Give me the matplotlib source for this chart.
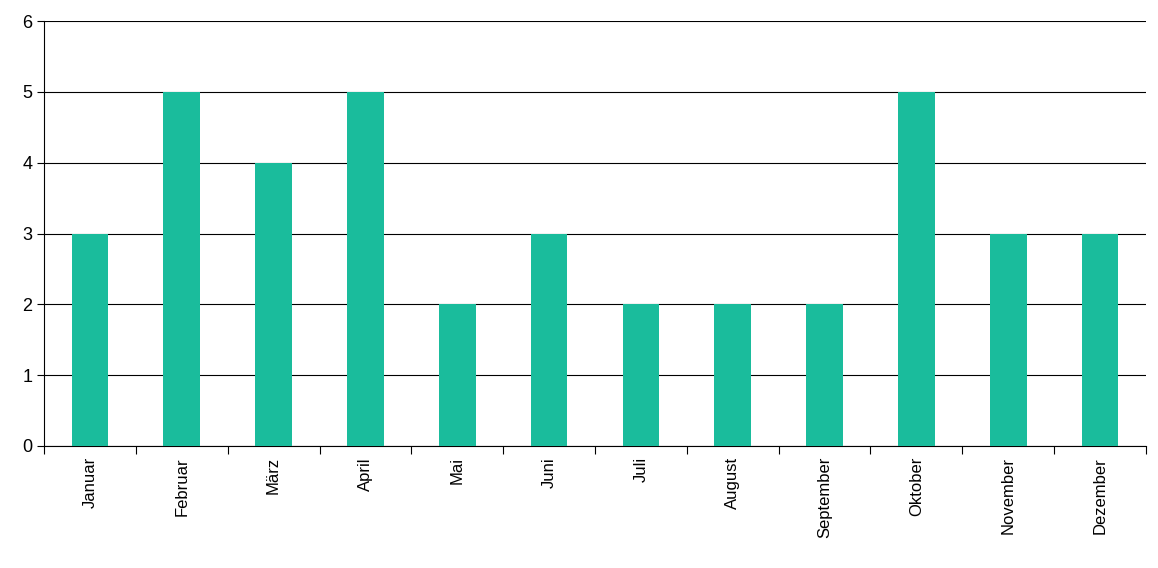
import matplotlib
matplotlib.use("Agg")
import matplotlib.pyplot as plt
import numpy as np

months = ["Januar","Februar","März","April","Mai","Juni","Juli","August","September","Oktober","November","Dezember"]
values = [3,5,4,5,2,3,2,2,2,5,3,3]

plt.rcParams['font.family'] = ['Liberation Sans','DejaVu Sans']
fig = plt.figure(figsize=(11.58,5.68), dpi=100)
ax = fig.add_axes([44/1158, 1-446/568, (1146-44)/1158, (446-21)/568])
x = np.arange(len(months))
ax.bar(x, values, width=0.4, color="#1abc9c", zorder=3)
ax.set_xlim(-0.5, len(months)-0.5)
ax.set_ylim(0, 6)
ax.set_yticks(range(7))
ax.yaxis.grid(True, color="black", linewidth=0.8, zorder=0)
ax.set_xticks(x)
ax.set_xticklabels(months, rotation=90, fontsize=12)
ax.tick_params(axis='x', length=0, pad=8)
ax.set_xticks(np.arange(-0.5, len(months), 1), minor=True)
ax.tick_params(axis='x', which='minor', length=6, direction='out', width=0.8)
ax.tick_params(axis='y', labelsize=13, length=5, width=0.8)
for s in ['top','right']:
    ax.spines[s].set_visible(False)
ax.spines['left'].set_linewidth(0.8)
ax.spines['bottom'].set_linewidth(0.8)
fig.savefig("out.png", dpi=100)
